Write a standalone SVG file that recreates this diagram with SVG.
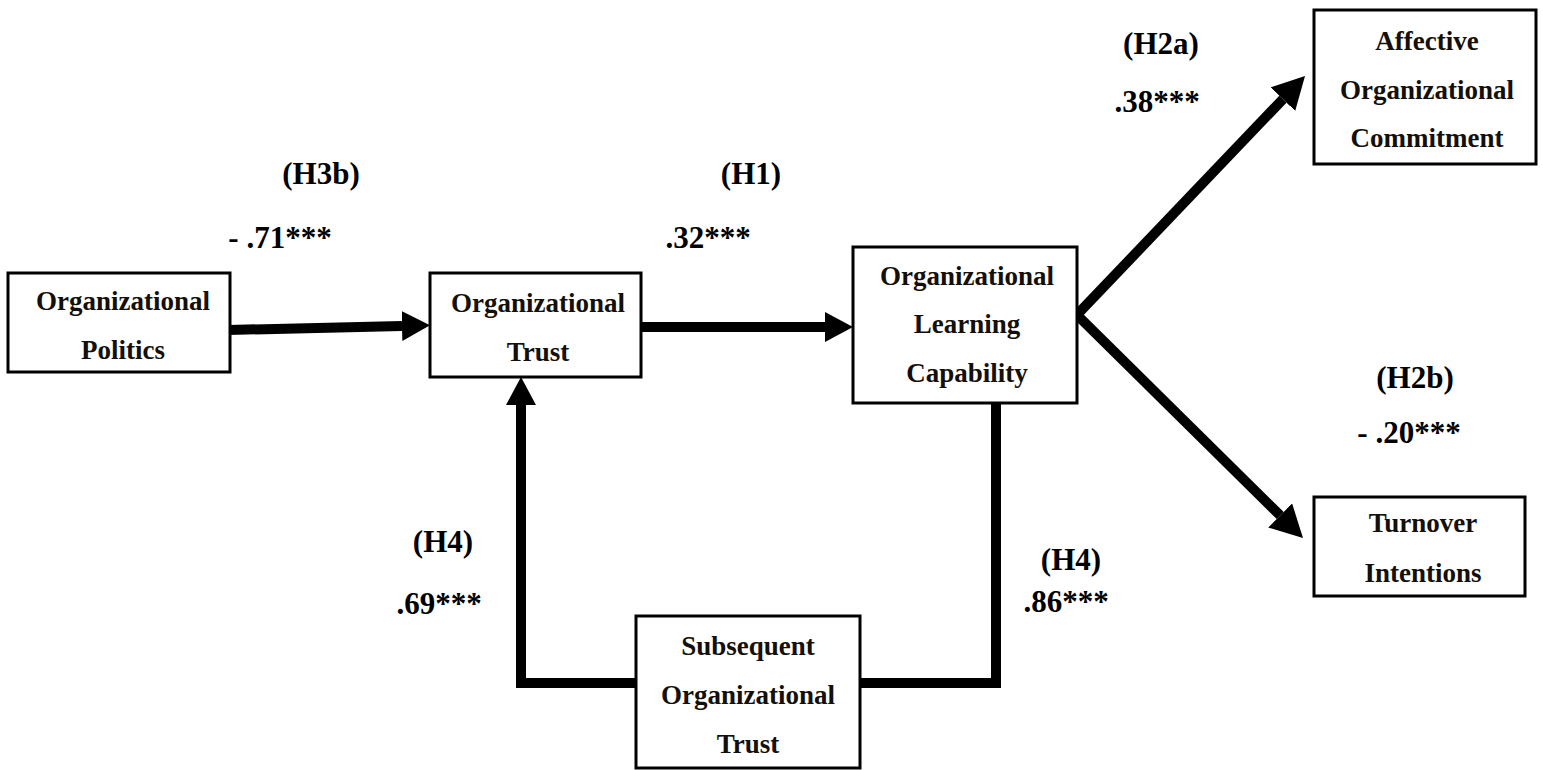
<svg xmlns="http://www.w3.org/2000/svg" width="1543" height="770" viewBox="0 0 1543 770">
<style>
.box{fill:#fff;stroke:#000;stroke-width:3}
.t{font-family:"Liberation Serif","Times New Roman",serif;font-weight:bold;font-size:27px;fill:#140f08;text-anchor:middle}
.l{font-family:"Liberation Serif","Times New Roman",serif;font-weight:bold;font-size:31px;fill:#000;text-anchor:middle}
.c{fill:none;stroke:#000;stroke-width:10}
</style>
<defs>
<marker id="ah" viewBox="0 0 28 30" refX="0" refY="15" markerWidth="28" markerHeight="30" markerUnits="userSpaceOnUse" orient="auto">
<path d="M0,0 L28,15 L0,30 z" fill="#000"/>
</marker>
<marker id="ahd" viewBox="0 0 32 34" refX="0" refY="17" markerWidth="32" markerHeight="34" markerUnits="userSpaceOnUse" orient="auto">
<path d="M0,0 L32,17 L0,34 z" fill="#000"/>
</marker>
</defs>
<rect width="1543" height="770" fill="#fff"/>
<g id="connectors">
<line class="c" x1="228" y1="330" x2="402" y2="326" marker-end="url(#ah)"/>
<line class="c" x1="640" y1="327" x2="825" y2="327" marker-end="url(#ah)"/>
<path class="c" d="M640,683 H521 V405" marker-end="url(#ah)"/>
<path class="c" d="M855,683 H996 V400"/>
<line class="c" x1="1072" y1="320" x2="1282.9" y2="99.2" marker-end="url(#ahd)"/>
<line class="c" x1="1072" y1="310" x2="1280.2" y2="515.5" marker-end="url(#ahd)"/>
</g>
<g id="politics">
<rect class="box" x="8" y="273" width="222" height="99"/>
<text class="t" x="123" y="310">Organizational</text>
<text class="t" x="123" y="359">Politics</text>
</g>
<g id="trust">
<rect class="box" x="430" y="273" width="211" height="104"/>
<text class="t" x="538" y="312">Organizational</text>
<text class="t" x="538" y="361">Trust</text>
</g>
<g id="olc">
<rect class="box" x="853" y="247" width="224" height="156"/>
<text class="t" x="967" y="285">Organizational</text>
<text class="t" x="967" y="333">Learning</text>
<text class="t" x="967" y="382">Capability</text>
</g>
<g id="affective">
<rect class="box" x="1314" y="10" width="222" height="154"/>
<text class="t" x="1427" y="50">Affective</text>
<text class="t" x="1427" y="99">Organizational</text>
<text class="t" x="1427" y="147">Commitment</text>
</g>
<g id="turnover">
<rect class="box" x="1314" y="497" width="211" height="99"/>
<text class="t" x="1423" y="532">Turnover</text>
<text class="t" x="1423" y="582">Intentions</text>
</g>
<g id="subsequent">
<rect class="box" x="636" y="616" width="224" height="152"/>
<text class="t" x="748" y="655">Subsequent</text>
<text class="t" x="748" y="704">Organizational</text>
<text class="t" x="748" y="753">Trust</text>
</g>
<g id="labels">
<text class="l" x="321" y="184">(H3b)</text>
<text class="l" x="280" y="248">- .71***</text>
<text class="l" x="751" y="184">(H1)</text>
<text class="l" x="708" y="248">.32***</text>
<text class="l" x="1161" y="54">(H2a)</text>
<text class="l" x="1157" y="112">.38***</text>
<text class="l" x="1415" y="388">(H2b)</text>
<text class="l" x="1409" y="443">- .20***</text>
<text class="l" x="443" y="552">(H4)</text>
<text class="l" x="439" y="614">.69***</text>
<text class="l" x="1071" y="570">(H4)</text>
<text class="l" x="1066" y="612">.86***</text>
</g>
</svg>
